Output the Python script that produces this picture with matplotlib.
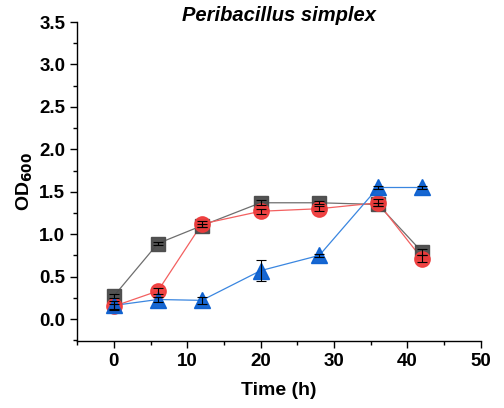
import matplotlib
matplotlib.use("Agg")
from matplotlib import pyplot as plt
from matplotlib.ticker import MultipleLocator

# growth curve data
timeH = [0, 6, 12, 20, 28, 36, 42]
odSquare = [0.27, 0.89, 1.10, 1.37, 1.37, 1.35, 0.79]
errSquare = [0.02, 0.02, 0.02, 0.03, 0.02, 0.02, 0.03]
odCircle = [0.15, 0.33, 1.12, 1.27, 1.30, 1.37, 0.71]
errCircle = [0.03, 0.04, 0.04, 0.03, 0.03, 0.04, 0.04]
odTriangle = [0.16, 0.23, 0.22, 0.57, 0.75, 1.55, 1.55]
errTriangle = [0.05, 0.03, 0.04, 0.12, 0.02, 0.02, 0.02]

plt.rcParams["font.family"] = ["Liberation Sans", "DejaVu Sans"]

fig = plt.figure(figsize=(5.04, 4.08), dpi=100)
ax = fig.add_axes([0.153, 0.164, 0.801, 0.782])

series = [
    (odSquare, errSquare, "s", "#4a4a4a", "#6e6e6e", 10.5),
    (odCircle, errCircle, "o", "#ef3b3b", "#f36060", 11),
    (odTriangle, errTriangle, "^", "#0a5fd0", "#3a86e0", 12),
]
for od, err, marker, mcolor, lcolor, msize in series:
    ax.plot(timeH, od, "-", color=lcolor, linewidth=0.9, zorder=2)
    ax.plot(timeH, od, linestyle="none", marker=marker, markersize=msize,
            markerfacecolor=mcolor, markeredgecolor=mcolor, alpha=0.95, zorder=3)
    ax.errorbar(timeH, od, yerr=err, fmt="none", ecolor="black",
                elinewidth=0.8, capsize=3.5, capthick=0.8, zorder=4)

ax.set_xlim(-5, 50)
ax.set_ylim(-0.26, 3.5)
ax.xaxis.set_major_locator(MultipleLocator(10))
ax.xaxis.set_minor_locator(MultipleLocator(5))
ax.yaxis.set_major_locator(MultipleLocator(0.5))
ax.yaxis.set_minor_locator(MultipleLocator(0.25))
ax.set_yticks([0.0, 0.5, 1.0, 1.5, 2.0, 2.5, 3.0, 3.5])
ax.yaxis.set_major_formatter(matplotlib.ticker.FormatStrFormatter("%.1f"))

for side in ["top", "right"]:
    ax.spines[side].set_visible(False)
for side in ["left", "bottom"]:
    ax.spines[side].set_linewidth(1.0)
ax.tick_params(which="major", direction="out", length=5, width=1.0, labelsize=13.5)
ax.tick_params(which="minor", direction="out", length=3, width=1.0)
for lbl in ax.get_xticklabels() + ax.get_yticklabels():
    lbl.set_fontweight("bold")

ax.set_xlabel("Time (h)", fontsize=14, fontweight="bold", labelpad=9)
ax.set_ylabel("OD$_{\\mathbf{600}}$", fontsize=14, fontweight="bold", labelpad=3)
ax.set_title("Peribacillus simplex", fontsize=14.5, fontweight="bold",
             fontstyle="italic", y=1.0, pad=1)

fig.savefig("out.png", dpi=100)
